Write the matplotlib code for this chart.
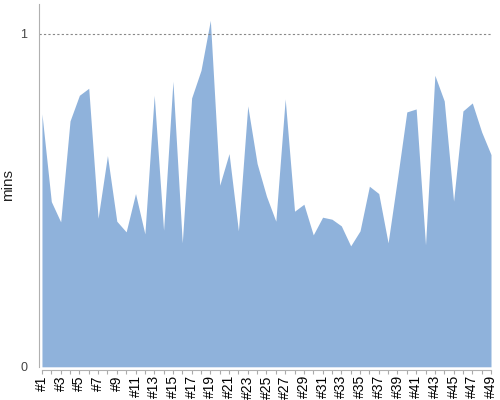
import matplotlib.pyplot as plt

plt.rcParams['font.family'] = ['Liberation Sans', 'DejaVu Sans']

# values (minutes per run)
labels = ['#%d' % i for i in range(1, 50)]
mins = [0.759, 0.496, 0.435, 0.738, 0.815, 0.836, 0.446, 0.634, 0.437, 0.405,
        0.520, 0.399, 0.815, 0.410, 0.857, 0.372, 0.807, 0.890, 1.040, 0.545,
        0.640, 0.408, 0.783, 0.610, 0.512, 0.437, 0.804, 0.467, 0.488, 0.396,
        0.449, 0.443, 0.423, 0.363, 0.408, 0.542, 0.520, 0.372, 0.565, 0.765,
        0.774, 0.366, 0.875, 0.798, 0.497, 0.768, 0.792, 0.705, 0.637]
ref_line = 1.0

x = list(range(1, len(mins) + 1))

fig = plt.figure(figsize=(5, 4), dpi=100)
ax = fig.add_axes([0.077, 0.083, 0.905, 0.907])

ax.fill_between(x, mins, 0, color='#8fb2db', linewidth=0)
ax.axhline(ref_line, color='#888888', linestyle=(0, (2, 2)), linewidth=0.8)

ax.set_xlim(0.63, 49)
ax.set_ylim(0, 1.089)

ax.set_xticks(x)
ax.set_xticklabels([l if i % 2 == 0 else '' for i, l in enumerate(labels)],
                   fontsize=6.5, color='#111111')
ax.tick_params(axis='x', length=3, color='#aaaaaa', pad=1, labelrotation=90)
ax.set_yticks([0, 1])
ax.set_yticklabels(['0', '1'], fontsize=9, color='#444444')
ax.tick_params(axis='y', length=0, pad=8)

ax.set_ylabel('mins', fontsize=11, color='#222222', labelpad=4)

for s in ['top', 'right']:
    ax.spines[s].set_visible(False)
ax.spines['left'].set_color('#b0b0b0')
ax.spines['bottom'].set_color('#b0b0b0')
ax.spines['bottom'].set_position(('outward', 2))
ax.spines['bottom'].set_bounds(1, 49)

fig.savefig('out.png', dpi=100)
